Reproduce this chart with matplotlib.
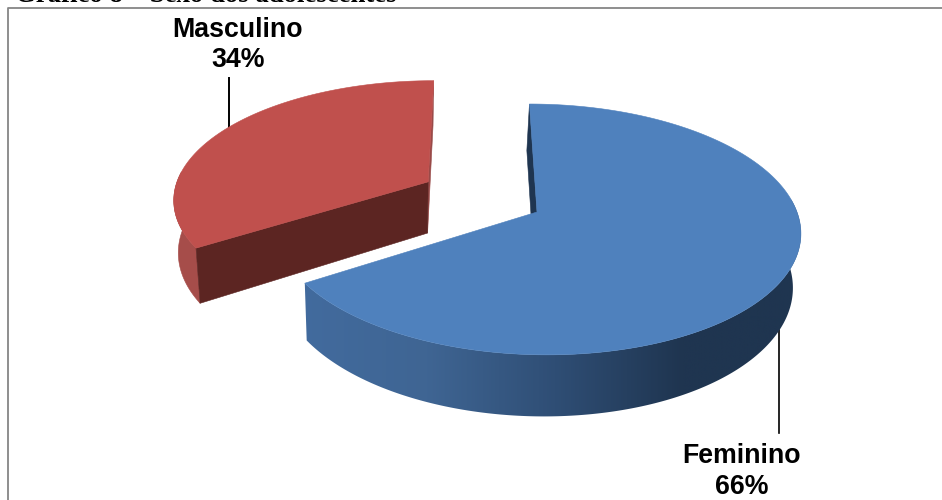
import matplotlib
matplotlib.use("Agg")
import matplotlib.pyplot as plt
import numpy as np
from matplotlib.colors import LinearSegmentedColormap
from matplotlib.patches import Polygon

labels = ["Feminino", "Masculino"]
shares = [66, 34]
caption = "Gráfico 8 – Sexo dos adolescentes"

W, H = 942, 500

# projection of the pie disc onto the page
CX, CY = 537, 212
RX, RY = 260, 123
P = 0.139
SHEAR = 0.07
DEPTH = 53
START = 0.0
EXPLODE = 0.485


def project(u, v, lower=False):
    s = 1.0 / (1.0 + P * v)
    y = -RY * v * s
    x = CX + RX * u * s + SHEAR * y
    y = CY + y
    if lower:
        # the underside sits lower and pulls in towards the page middle
        x = x - 0.02 * (x - 400)
        y = y + DEPTH * s
    return x, y


def disc(theta, du=0.0, dv=0.0, lower=False):
    t = np.radians(theta)
    return project(np.sin(t) + du, np.cos(t) + dv, lower)


def arc(a, b, du=0.0, dv=0.0, lower=False):
    return [disc(t, du, dv, lower) for t in np.linspace(a, b, 300)]


def rim(a, b, du=0.0, dv=0.0):
    return arc(a, b, du, dv) + arc(b, a, du, dv, True)


fig = plt.figure(figsize=(W / 100, H / 100), dpi=100)
ax = fig.add_axes([0, 0, 1, 1])
ax.axis("off")

# chart frame: only the top and left edges fall on the page
ax.plot([8, 8, W], [H, 8, 8], color="#868686", lw=1.3, zorder=0)

ax.text(15, 2, caption, family="Liberation Serif", weight="bold", fontsize=19.3,
        ha="left", va="baseline", color="black", zorder=5)

end_blue = START + 360 * shares[0] / sum(shares)
red_a, red_b = end_blue, START + 360

# Masculino wedge, pulled out along its middle direction
mid = np.radians((red_a + red_b) / 2)
du, dv = EXPLODE * np.sin(mid), EXPLODE * np.cos(mid) + 0.02
apex = project(du, dv)
apex_low = project(du, dv, True)

ax.add_patch(Polygon([disc(red_b, du, dv), apex, apex_low, disc(red_b, du, dv, True)],
                     fc="#994a48", ec="#994a48", lw=0.4, zorder=2))
ax.add_patch(Polygon(rim(red_a, 275, du, dv), fc="#a64d4a", ec="#a64d4a", lw=0.4, zorder=2))
ax.add_patch(Polygon([disc(red_a, du, dv), apex, apex_low, disc(red_a, du, dv, True)],
                     fc="#5c2522", ec="#5c2522", lw=0.4, zorder=3))
ax.add_patch(Polygon(arc(red_a, red_b, du, dv) + [apex], fc="#c0504d", ec="#c0504d", lw=0.4, zorder=4))

# Feminino wedge: rear cut face, shaded rim, then the top
centre = project(0, 0)
ax.add_patch(Polygon([disc(START), centre, project(0, 0, True), disc(START, lower=True)],
                     fc="#1f3550", ec="#1f3550", lw=0.4, zorder=2))

shade = LinearSegmentedColormap.from_list(
    "rim", ["#426b9e", "#3f6593", "#2f4e75", "#1f3550", "#1f3550"])
grad = ax.imshow(np.linspace(0, 1, 512)[None, :], cmap=shade, aspect="auto",
                 extent=(300, 810, 430, 200), zorder=2)
rim_patch = Polygon(rim(75, end_blue), fc="none", ec="none", transform=ax.transData)
ax.add_patch(rim_patch)
grad.set_clip_path(rim_patch)

ax.add_patch(Polygon(arc(START, end_blue) + [centre], fc="#4f81bd", ec="#4f81bd", lw=0.4, zorder=4))

# leader lines
ax.plot([228.5, 228.5], [78, 130], color="black", lw=1.4, zorder=1)
ax.plot([778.5, 778.5], [330, 433], color="black", lw=1.2, zorder=1)

label_font = dict(family="Liberation Sans", weight="bold", fontsize=19.3, ha="center",
                  va="center", color="black", linespacing=1.22, zorder=6)
ax.text(238, 45, f"{labels[1]}\n{shares[1]}%", **label_font)
ax.text(742, 471.5, f"{labels[0]}\n{shares[0]}%", **label_font)

ax.set_xlim(0, W)
ax.set_ylim(H, 0)

fig.savefig("out.png", dpi=100)
